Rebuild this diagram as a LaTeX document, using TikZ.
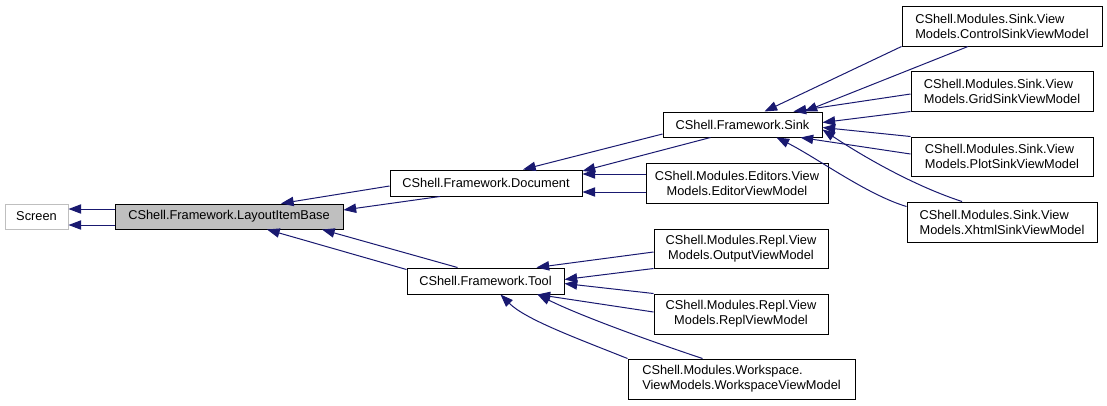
\documentclass[tikz,border=0pt]{standalone}
\usepackage{fontspec}
\setmainfont{Liberation Sans}
\usetikzlibrary{arrows.meta,calc}
\definecolor{edgeblue}{HTML}{191970}
\definecolor{basegray}{HTML}{BFBFBF}
\tikzset{
  cls/.style={draw=black, line width=0.75pt, fill=white, inner sep=0pt,
    font=\fontsize{9.6}{11.25}\selectfont, align=center},
  ext/.style={cls, draw=basegray},
  inh/.style={draw=edgeblue, line width=0.75pt,
    -{Triangle[length=9.5pt,width=7pt,fill=edgeblue]}},
}
\begin{document}
\begin{tikzpicture}[x=0.75pt,y=-0.75pt]
\useasboundingbox (0,0) rectangle (1107,405);
% Nodes
\node[ext, minimum width=47.25pt, minimum height=18.75pt] (screen) at (36.5,216.5) {Screen};
\node[cls, fill=basegray, minimum width=171pt, minimum height=18.75pt] (base) at (229,216.5) {CShell.Framework.LayoutItemBase};
\node[cls, minimum width=144pt, minimum height=19.5pt] (document) at (486,183) {CShell.Framework.Document};
\node[cls, minimum width=117.75pt, minimum height=19.5pt] (tool) at (485.5,281) {CShell.Framework.Tool};
\node[cls, minimum width=119.25pt, minimum height=18.75pt] (sink) at (742.5,124.5) {CShell.Framework.Sink};
\node[cls, minimum width=136.5pt, minimum height=30pt] (editor) at (737,183) {CShell.Modules.Editors.View\\Models.EditorViewModel};
\node[cls, minimum width=130.5pt, minimum height=29.25pt] (output) at (741,248.5) {CShell.Modules.Repl.View\\Models.OutputViewModel};
\node[cls, minimum width=130.5pt, minimum height=30pt] (repl) at (741,314) {CShell.Modules.Repl.View\\Models.ReplViewModel};
\node[cls, align=left, minimum width=170.25pt, minimum height=30pt] (workspace) at (741.5,379) {CShell.Modules.Workspace.\\ViewModels.WorkspaceViewModel};
\node[cls, align=left, minimum width=150pt, minimum height=30pt] (control) at (1002,26) {CShell.Modules.Sink.View\\Models.ControlSinkViewModel};
\node[cls, align=left, minimum width=136.5pt, minimum height=30pt] (grid) at (1002,91) {CShell.Modules.Sink.View\\Models.GridSinkViewModel};
\node[cls, align=left, minimum width=136.5pt, minimum height=29.25pt] (plot) at (1002,156.5) {CShell.Modules.Sink.View\\Models.PlotSinkViewModel};
\node[cls, align=left, minimum width=142.5pt, minimum height=30pt] (xhtml) at (1002,222) {CShell.Modules.Sink.View\\Models.XhtmlSinkViewModel};
% Edges
\draw[inh] ($(base.west)+(0,-7.5)$) -- ($(screen.east)+(0,-7.5)$);
\draw[inh] ($(base.west)+(0,8.5)$) -- ($(screen.east)+(0,8.5)$);
\draw[inh] ($(document.west)+(0,3)$) -- ($(base.north)+(52,0)$);
\draw[inh] ($(document.south)+(-46,0)$) -- ($(base.east)+(0,-6.5)$);
\draw[inh] ($(tool.north west)+(0,2)$) -- ($(base.south)+(38,0)$);
\draw[inh] ($(tool.north)+(-28,0)$) -- ($(base.south)+(93,0)$);
\draw[inh] ($(sink.west)+(0,9.5)$) -- ($(document.north)+(37,0)$);
\draw[inh] ($(sink.south)+(-32,0)$) -- ($(document.east)+(0,-12)$);
\draw[inh] ($(editor.west)+(0,-9)$) -- ($(document.east)+(0,-9)$);
\draw[inh] ($(editor.west)+(0,9)$) -- ($(document.east)+(0,9)$);
\draw[inh] (control.south west) -- ($(sink.north)+(22,0)$);
\draw[inh] ($(control.south)+(-34,0)$) -- ($(sink.north)+(62,0)$);
\draw[inh] ($(grid.west)+(0,3)$) -- ($(sink.north)+(51,0)$);
\draw[inh] (grid.south west) -- ($(sink.east)+(0,-2)$);
\draw[inh] (plot.north west) -- ($(sink.east)+(0,3)$);
\draw[inh] ($(plot.west)+(0,-2.5)$) -- ($(sink.south)+(58,0)$);
\draw[inh] ($(xhtml.north west)+(0,5)$) .. controls +(-40,-12) and +(40,20) .. ($(sink.south)+(34,0)$);
\draw[inh] ($(xhtml.north)+(-40,0)$) .. controls +(-55,-18) and +(30,20) .. ($(sink.east)+(0,5)$);
\draw[inh] ($(output.west)+(0,3.5)$) -- ($(tool.north)+(51,0)$);
\draw[inh] (output.south west) -- ($(tool.east)+(0,-1.5)$);
\draw[inh] (repl.north west) -- ($(tool.east)+(0,2.5)$);
\draw[inh] ($(repl.west)+(0,-2)$) -- ($(tool.south)+(52,0)$);
\draw[inh] (workspace.north west) .. controls +(-50,-20) and +(25,25) .. ($(tool.south)+(15,0)$);
\draw[inh] ($(workspace.north)+(-39,0)$) .. controls +(-60,-20) and +(40,20) .. ($(tool.south)+(52,0)$);
\end{tikzpicture}
\end{document}
